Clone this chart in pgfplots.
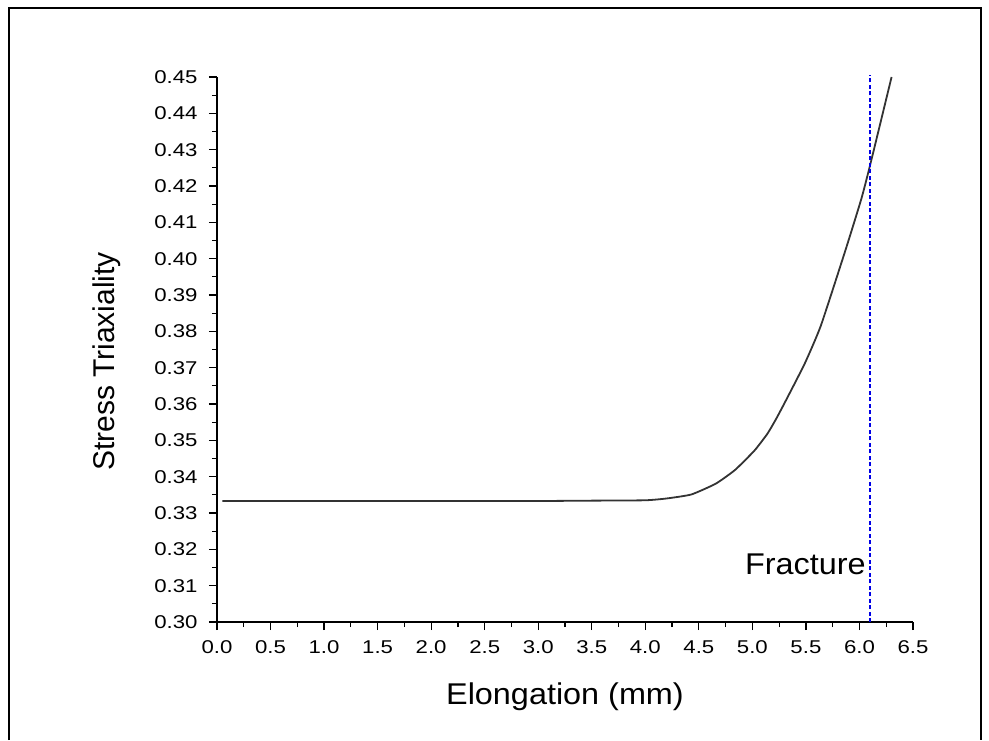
\documentclass[border=0pt]{standalone}
\usepackage{fontspec}
\setmainfont{Liberation Sans}
\newfontfamily\tickfont{Liberation Sans}[FakeStretch=1.2]
\newfontfamily\labfont{Liberation Sans}[FakeStretch=1.08]
\usepackage{pgfplots}
\pgfplotsset{compat=1.18}
\colorlet{cCurve}{black!80}
\colorlet{cFrac}{blue!90!black}

% one pt of the page stands for one pixel of the 989x740 reference
\pgfplotstableread{
x     y
0.05  0.3333
0.50  0.3333
1.00  0.3333
1.50  0.3333
2.00  0.3333
2.50  0.3333
3.00  0.3333
3.50  0.3334
4.00  0.3335
4.20  0.3340
4.43  0.3351
4.66  0.3381
4.84  0.3419
5.02  0.3472
5.14  0.3518
5.22  0.3558
5.31  0.3608
5.49  0.3712
5.64  0.3816
5.87  0.4024
6.02  0.4167
6.11  0.4270
6.30  0.4500
}\triax

\begin{document}
\begin{tikzpicture}[x=1pt,y=1pt]
\useasboundingbox (0,0) rectangle (989,740);
% frame of the figure
\draw[line width=1.3pt] (9,0) -- (9,732) -- (981,732) -- (981,0);
\begin{axis}[
  at={(217pt,118pt)}, anchor=south west,
  scale only axis,
  width=696pt, height=545pt,
  xmin=0, xmax=6.5, ymin=0.30, ymax=0.45,
  xtick={0,0.5,...,6.5},
  ytick={0.30,0.31,...,0.451},
  minor tick num=1,
  axis lines*=left,
  axis line style={line width=1.4pt, black},
  tick align=outside,
  major tick length=8pt, minor tick length=5pt,
  every tick/.style={line width=1.2pt, black},
  tick label style={font=\tickfont\fontsize{18.5}{20}\selectfont},
  /pgf/number format/assume math mode=true,
  xticklabel style={yshift=-7pt,
    /pgf/number format/.cd, fixed, fixed zerofill, precision=1},
  yticklabel style={xshift=-8pt,
    /pgf/number format/.cd, fixed, fixed zerofill, precision=2},
  xlabel={Elongation (mm)},
  ylabel={Stress Triaxiality},
  xlabel style={font=\labfont\fontsize{30}{34}\selectfont,
                at={(axis description cs:0.5,0)}, anchor=base, yshift=-82pt},
  % label baseline 102 px left of the axis, its middle 12 px below centre
  ylabel style={font=\fontsize{30}{34}\selectfont,
                at={(axis description cs:-0.1466,0.478)}, anchor=base},
  clip=false,
]
\addplot[cCurve, line width=1.8pt, smooth, tension=0.3] table[x=x, y=y] {\triax};
% fracture line
\addplot[cFrac, line width=1.4pt, dash pattern=on 4pt off 2.5pt]
  coordinates {(6.1,0.30) (6.1,0.4505)};
\node[font=\labfont\fontsize{30}{34}\selectfont, anchor=base east, inner sep=0pt]
  at (axis cs:6.06,0.3132) {Fracture};
\end{axis}
\end{tikzpicture}
\end{document}
